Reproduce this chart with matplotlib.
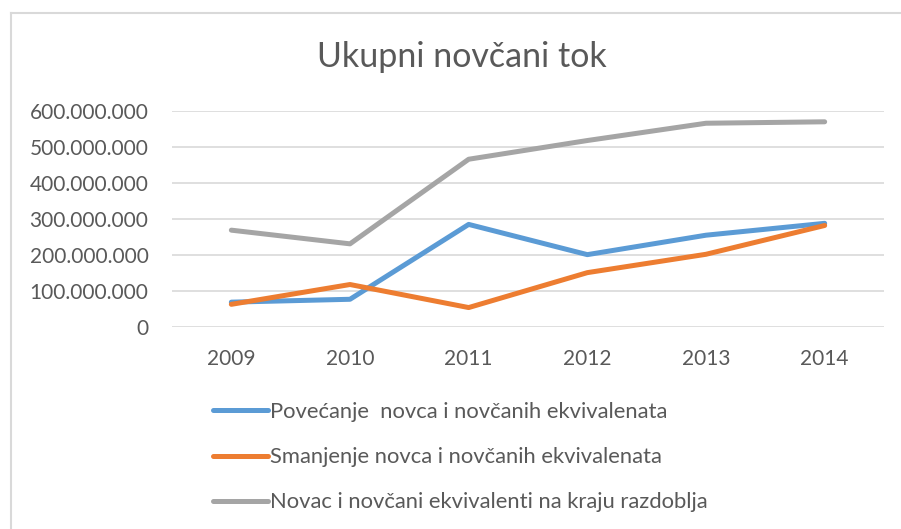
import matplotlib
matplotlib.use("Agg")
import matplotlib.pyplot as plt
from matplotlib.lines import Line2D
from matplotlib.ticker import FuncFormatter

years = ["2009", "2010", "2011", "2012", "2013", "2014"]
povecanje = [69e6, 77e6, 285e6, 201e6, 255e6, 288e6]
smanjenje = [63e6, 118e6, 54e6, 151e6, 202e6, 282e6]
novac_kraj = [269e6, 231e6, 466e6, 518e6, 566e6, 570e6]
labels = ["Povećanje  novca i novčanih ekvivalenata",
          "Smanjenje novca i novčanih ekvivalenata",
          "Novac i novčani ekvivalenti na kraju razdoblja"]
colors = ["#5B9BD5", "#ED7D31", "#A5A5A5"]
title = "Ukupni novčani tok"
yticks = [0, 100e6, 200e6, 300e6, 400e6, 500e6, 600e6]

plt.rcParams['font.family'] = ['Lato', 'DejaVu Sans']
txt = "#595959"

W, H = 901, 529
fig = plt.figure(figsize=(W/100, H/100), dpi=100)
ax = fig.add_axes([172/W, 1-327/H, (884-172)/W, (327-111)/H])

x = list(range(len(years)))
handles = []
for vals, c, lab in zip([povecanje, smanjenje, novac_kraj], colors, labels):
    h, = ax.plot(x, vals, color=c, lw=3.6, solid_capstyle='round', solid_joinstyle='round', label=lab)
    handles.append(h)

ax.set_xlim(-0.5, len(years)-0.5)
ax.set_ylim(0, 600e6)
ax.set_yticks(yticks)
ax.yaxis.set_major_formatter(FuncFormatter(lambda v, p: f"{int(v):,}".replace(",", ".")))
ax.set_xticks(x)
ax.set_xticklabels(years)
ax.grid(axis='y', color='#D9D9D9', lw=1.2)
ax.set_axisbelow(True)
for s in ax.spines.values():
    s.set_visible(False)
ax.tick_params(axis='both', length=0, colors=txt, labelsize=15)
ax.tick_params(axis='x', pad=16)
ax.tick_params(axis='y', pad=17)

fig.text(462/W, 1-57/H, title, ha='center', va='center', fontsize=24.5, color=txt)

leg = fig.legend(handles=handles, loc='upper left', bbox_to_anchor=(213/W, 1-402/H),
                 frameon=False, fontsize=15.8, handlelength=2.5, handletextpad=0.1,
                 labelspacing=1.15, borderpad=0, borderaxespad=0)
for t in leg.get_texts():
    t.set_color(txt)

# chart border (cropped at right and bottom)
fig.add_artist(Line2D([11/W, 1], [1-13/H, 1-13/H], color='#D9D9D9', lw=1.5, transform=fig.transFigure))
fig.add_artist(Line2D([11/W, 11/W], [0, 1-13/H], color='#D9D9D9', lw=1.5, transform=fig.transFigure))

fig.savefig("out.png", dpi=100)
